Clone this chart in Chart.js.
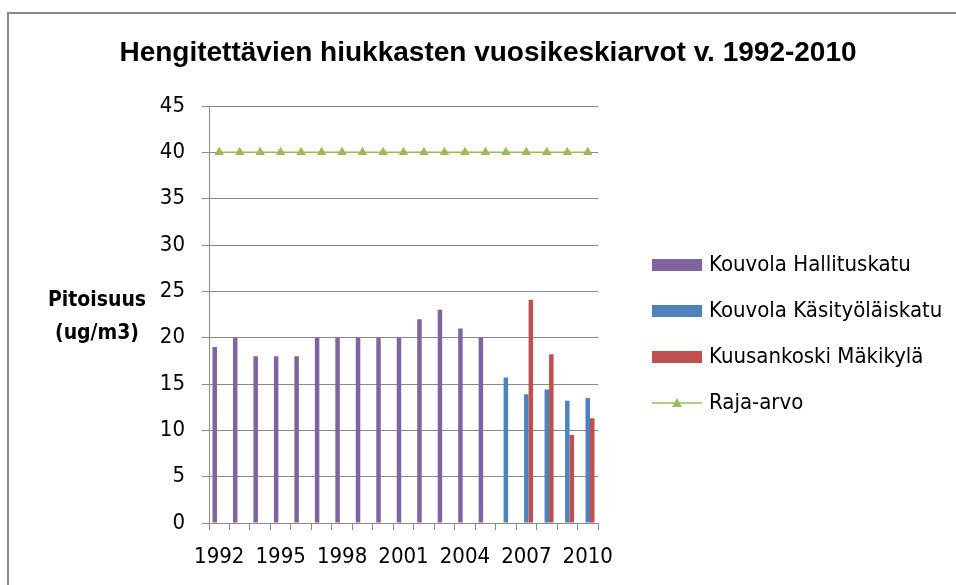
<!DOCTYPE html>
<html>
<head>
<meta charset="utf-8">
<script src="https://cdn.jsdelivr.net/npm/chart.js@4/dist/chart.umd.min.js"></script>
<style>
  html, body { margin: 0; padding: 0; background: #fff; overflow: hidden; }
  #frame { position: absolute; left: 7px; top: 12px; width: 1000px; height: 1000px; border: 2px solid #8a8a8a; box-sizing: border-box; }
  #wrap { position: absolute; left: 0; top: 0; width: 976px; height: 585px; }
</style>
</head>
<body>
<div id="frame"></div>
<div id="wrap"><canvas id="chart" width="976" height="585"></canvas></div>
<script>
// --- Datos ---
const years = ['1992', '1993', '1994', '1995', '1996', '1997', '1998', '1999', '2000', '2001',
  '2002', '2003', '2004', '2005', '2006', '2007', '2008', '2009', '2010'];

const hallituskatu = [19, 20, 18, 18, 18, 20, 20, 20, 20, 20, 22, 23, 21, 20, null, null, null, null, null];
const kasityolaiskatu = [null, null, null, null, null, null, null, null, null, null, null, null, null, null, 15.7, 13.9, 14.4, 13.2, 13.5];
const makikyla = [null, null, null, null, null, null, null, null, null, null, null, null, null, null, null, 24.1, 18.2, 9.5, 11.3];
const rajaArvo = [40, 40, 40, 40, 40, 40, 40, 40, 40, 40, 40, 40, 40, 40, 40, 40, 40, 40, 40];

const yTicks = [0, 5, 10, 15, 20, 25, 30, 35, 40, 45];

const FONT = "'Liberation Sans Narrow', 'DejaVu Sans Condensed', Lato, sans-serif";
const TITLE_FONT = "'Liberation Sans', Arial, sans-serif";

// Otsikko, selite ja y-akselin otsikko piirretään itse
const customLegend = {
  id: 'customLegend',
  afterDraw(chart) {
    const ctx = chart.ctx;
    ctx.save();
    ctx.fillStyle = '#000';
    ctx.textAlign = 'center';
    ctx.textBaseline = 'middle';
    ctx.font = 'bold 28px ' + TITLE_FONT;
    ctx.fillText('Hengitettävien hiukkasten vuosikeskiarvot v. 1992-2010', 488, 53);

    const x0 = 652, w = 50, textX = 709;
    const ys = [265, 311, 357, 403];
    ctx.textAlign = 'left';
    ctx.font = '22px ' + FONT;
    chart.data.datasets.forEach((ds, i) => {
      const y = ys[i];
      if (ds.type === 'line') {
        ctx.strokeStyle = ds.borderColor;
        ctx.lineWidth = 1.5;
        ctx.beginPath();
        ctx.moveTo(x0, y);
        ctx.lineTo(x0 + w, y);
        ctx.stroke();
        ctx.fillStyle = ds.pointBackgroundColor;
        ctx.beginPath();
        ctx.moveTo(x0 + w / 2, y - 5);
        ctx.lineTo(x0 + w / 2 + 5, y + 4);
        ctx.lineTo(x0 + w / 2 - 5, y + 4);
        ctx.closePath();
        ctx.fill();
      } else {
        ctx.fillStyle = ds.backgroundColor;
        ctx.fillRect(x0, y - 6, w, 12);
      }
      ctx.fillStyle = '#000';
      ctx.fillText(ds.label, textX, y);
    });

    ctx.font = 'bold 21px ' + FONT;
    ctx.textAlign = 'center';
    ctx.fillText('Pitoisuus', 97, 301);
    ctx.fillText('(ug/m3)', 97, 334);
    ctx.restore();
  }
};

const ctx = document.getElementById('chart').getContext('2d');
new Chart(ctx, {
  data: {
    labels: years,
    datasets: [
      { type: 'bar', label: 'Kouvola Hallituskatu', data: hallituskatu, backgroundColor: '#8064A2' },
      { type: 'bar', label: 'Kouvola Käsityöläiskatu', data: kasityolaiskatu, backgroundColor: '#4F81BD' },
      { type: 'bar', label: 'Kuusankoski Mäkikylä', data: makikyla, backgroundColor: '#C0504D' },
      {
        type: 'line', label: 'Raja-arvo', data: rajaArvo,
        borderColor: '#9BBB59', borderWidth: 1.5,
        pointStyle: 'triangle', pointRadius: 5.5,
        pointBackgroundColor: '#9BBB59', pointBorderColor: '#9BBB59', pointBorderWidth: 0
      }
    ]
  },
  options: {
    responsive: false,
    animation: false,
    layout: { padding: { left: 0, right: 378, top: 106, bottom: 0 } },
    datasets: {
      bar: { categoryPercentage: 0.66, barPercentage: 1.0 }
    },
    plugins: {
      legend: { display: false },
      tooltip: { enabled: false },
      title: { display: false }
    },
    scales: {
      x: {
        offset: true,
        grid: { offset: true, drawOnChartArea: false, drawTicks: true, tickLength: 7, color: '#8a8a8a' },
        border: { color: '#8a8a8a' },
        ticks: {
          autoSkip: false, maxRotation: 0, padding: 14, color: '#000',
          font: { family: FONT, size: 22 },
          callback: (v, i) => (i % 3 === 0 ? years[i] : '')
        },
        afterFit: s => { s.height = 62; }
      },
      y: {
        min: 0, max: 45,
        afterBuildTicks: s => { s.ticks = yTicks.map(v => ({ value: v })); },
        grid: { color: '#8a8a8a', tickLength: 7 },
        border: { color: '#8a8a8a' },
        ticks: { padding: 17, color: '#000', font: { family: FONT, size: 22 } },
        afterFit: s => { s.width = 209; }
      }
    }
  },
  plugins: [customLegend]
});
</script>
</body>
</html>
